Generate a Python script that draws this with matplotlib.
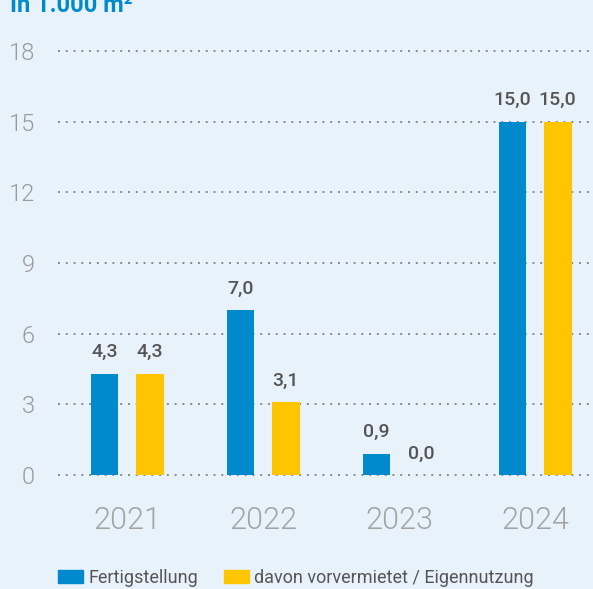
import matplotlib.pyplot as plt
from matplotlib.patches import Patch

years = ['2021', '2022', '2023', '2024']
fertig = [4.3, 7.0, 0.9, 15.0]
vorverm = [4.3, 3.1, 0.0, 15.0]
yticks = [0, 3, 6, 9, 12, 15, 18]

blue = '#0089cc'
yellow = '#ffc600'
bg = '#e8f2fb'
plt.rcParams['font.family'] = ['Roboto', 'DejaVu Sans']

fig = plt.figure(figsize=(5.93, 5.89), dpi=100, facecolor=bg)
ax = fig.add_axes([58 / 593, 114 / 589, 535 / 593, 424 / 589], facecolor=bg)

x = list(range(len(years)))
w = 0.1985
off = 0.165
ax.bar([i - off for i in x], fertig, width=w, color=blue, zorder=3)
ax.bar([i + off for i in x], vorverm, width=w, color=yellow, edgecolor=yellow,
       linewidth=0.8, zorder=3)

for i in x:
    for xx, v in ((i - off, fertig[i]), (i + off, vorverm[i])):
        ax.annotate(f'{v:.1f}'.replace('.', ','), (xx, v), xytext=(0, 9),
                    textcoords='offset points', ha='center', va='bottom',
                    fontsize=14, fontweight='medium', color='#555555')

for t in yticks:
    ax.axhline(t, color='#8a8a8a', lw=1.4, ls=(0, (1, 3)), zorder=1, clip_on=False)

ax.set_xlim(-0.507, 3.426)
ax.set_ylim(0, 18)
ax.set_yticks(yticks)
ax.set_yticklabels([str(t) for t in yticks], fontweight=300)
ax.set_xticks(x)
ax.set_xticklabels(years, fontweight=300)
ax.tick_params(axis='y', length=0, pad=16.5, labelsize=17, labelcolor='#999999')
ax.tick_params(axis='x', length=0, pad=22, labelsize=22, labelcolor='#a3a3a3')
for s in ax.spines.values():
    s.set_visible(False)

fig.text(10 / 593, 1 - 12 / 589, 'In 1.000 m²', color=blue, fontsize=17,
         fontweight='bold', va='baseline', ha='left')

handles = [Patch(color=blue, label='Fertigstellung'),
           Patch(color=yellow, label='davon vorvermietet / Eigennutzung')]
fig.legend(handles=handles, loc='center', bbox_to_anchor=(296 / 593, 1 - 578 / 589),
           ncol=2, frameon=False, fontsize=13, handlelength=1.4, handleheight=0.7,
           handletextpad=0.3, columnspacing=1.4, labelcolor='#555555')

fig.savefig('out.png', dpi=100, facecolor=bg)
